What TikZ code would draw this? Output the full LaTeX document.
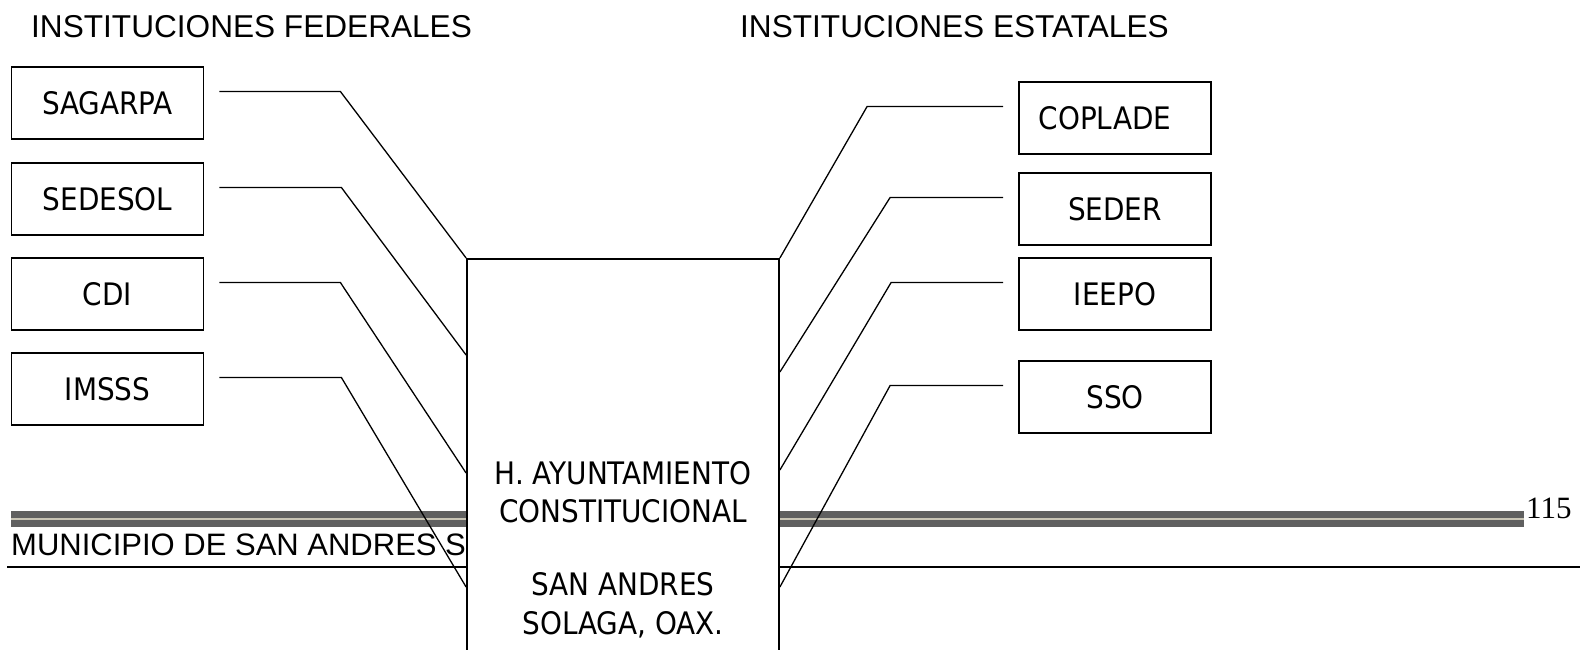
\documentclass[tikz,border=0pt]{standalone}
\usepackage{fontspec}
\setmainfont{Liberation Sans}
\newfontfamily\boxfont{DejaVu Sans Condensed}
\newfontfamily\pagefont{Liberation Serif}
\definecolor{bargray}{HTML}{606060}
\definecolor{barbeige}{HTML}{C9C5B5}

\begin{document}
\begin{tikzpicture}[x=1pt,y=-1pt,
  inst/.style={draw,line width=1.8pt,minimum width=192pt,minimum height=72pt,inner sep=0pt,font=\boxfont\fontsize{31}{37}\selectfont},
  link/.style={line width=1.3pt},
  heading/.style={anchor=base west,inner sep=0pt,font=\fontsize{31.6}{38}\selectfont}]
\useasboundingbox (0,0) rectangle (1580,649);
\clip (0,0) rectangle (1580,649);
\node[heading] (federales) at (31,37) {INSTITUCIONES FEDERALES};
\node[heading] (estatales) at (740,37) {INSTITUCIONES ESTATALES};
\node[inst] (sagarpa) at (107.5,103) {SAGARPA};
\node[inst] (sedesol) at (107.5,199) {SEDESOL};
\node[inst] (cdi) at (107.5,294) {CDI};
\node[inst] (imsss) at (107.5,389) {IMSSS};
\node[inst] (coplade) at (1115,118) {COPLADE\hspace*{20pt}};
\node[inst] (seder) at (1115,209) {SEDER};
\node[inst] (ieepo) at (1115,294) {IEEPO};
\node[inst] (sso) at (1115,397) {SSO};
\fill[bargray] (11,511) rectangle (1524,527);
\fill[barbeige] (11,517.5) rectangle (1524,520);
\node[heading,font=\fontsize{31}{37}\selectfont] (municipio) at (11,555) {MUNICIPIO DE SAN ANDRES S};
\node[anchor=base west,inner sep=0pt,font=\pagefont\fontsize{31}{37}\selectfont] (pagina) at (1526,518) {115};
\draw[line width=1.3pt] (7,567) -- (1580,567);
\node[draw,fill=white,line width=1.8pt,minimum width=312pt,minimum height=460pt,inner sep=0pt,anchor=north] (ayto) at (623,258) {};
\node[align=center,anchor=north,inner sep=0pt,font=\boxfont\fontsize{31}{38.5}\selectfont] (aytotxt) at (623,461) {H. AYUNTAMIENTO\\CONSTITUCIONAL\\[34.5pt]SAN ANDRES\\SOLAGA, OAX.};
\draw[link] (sagarpa.east) ++(15,-11.5) -- ++(121,0) -- (ayto.north west);
\draw[link] (sedesol.east) ++(15,-11.5) -- ++(122,0) -- ([yshift=-97pt]ayto.north west);
\draw[link] (cdi.east) ++(15,-11.5) -- ++(121,0) -- ([yshift=-215pt]ayto.north west);
\draw[link] (imsss.east) ++(15,-11.5) -- ++(122,0) -- ([yshift=-329pt]ayto.north west);
\draw[link] (coplade.west) ++(-15,-11.5) -- ++(-136,0) -- (ayto.north east);
\draw[link] (seder.west) ++(-15,-11.5) -- ++(-113,0) -- ([yshift=-114pt]ayto.north east);
\draw[link] (ieepo.west) ++(-15,-11.5) -- ++(-112,0) -- ([yshift=-212pt]ayto.north east);
\draw[link] (sso.west) ++(-15,-11.5) -- ++(-113,0) -- ([yshift=-329pt]ayto.north east);
\end{tikzpicture}
\end{document}
